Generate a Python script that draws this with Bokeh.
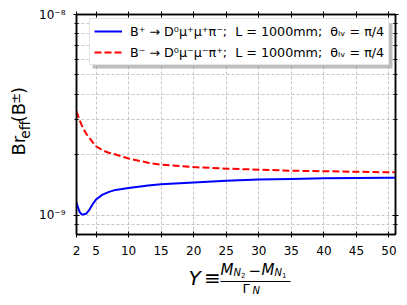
from bokeh.plotting import figure
from bokeh.layouts import row, column
from bokeh.models import (Legend, LegendItem, BoxAnnotation, FixedTicker,
                          CustomJSTickFormatter, LinearAxis, LogAxis, Range1d)
from bokeh.core.properties import value
from bokeh.embed import file_html
from bokeh.resources import INLINE

# ---- data ----
Y_vals = [2, 2.25, 2.5, 2.75, 3, 3.5, 4, 4.5, 5, 6, 7, 8, 10, 13, 15, 20, 25, 30, 35, 40, 45, 50, 51]
br_plus = [1.16e-9, 1.09e-9, 1.04e-9, 1.015e-9, 1.01e-9, 1.02e-9, 1.07e-9, 1.14e-9, 1.2e-9, 1.27e-9,
           1.31e-9, 1.34e-9, 1.37e-9, 1.41e-9, 1.43e-9, 1.46e-9, 1.49e-9, 1.51e-9, 1.52e-9,
           1.53e-9, 1.535e-9, 1.54e-9, 1.54e-9]
br_minus = [3.3e-9, 3.12e-9, 2.97e-9, 2.84e-9, 2.72e-9, 2.55e-9, 2.43e-9, 2.31e-9, 2.21e-9, 2.11e-9,
            2.05e-9, 2.01e-9, 1.92e-9, 1.83e-9, 1.79e-9, 1.74e-9, 1.71e-9, 1.69e-9, 1.67e-9,
            1.66e-9, 1.65e-9, 1.64e-9, 1.64e-9]
x_ticks = [2, 5, 10, 15, 20, 25, 30, 35, 40, 45, 50]
y_major = [1e-9, 1e-8]
y_minor = [9e-10, 2e-9, 3e-9, 4e-9, 5e-9, 6e-9, 7e-9, 8e-9, 9e-9]
label_plus = "B\u207a \u2192 D\u2070\u03bc\u207a\u03bc\u207a\u03c0\u207b;  L = 1000mm;  \u03b8\u2097\u1d65 = \u03c0/4"
label_minus = "B\u207b \u2192 D\u2070\u03bc\u207b\u03bc\u207b\u03c0\u207a;  L = 1000mm;  \u03b8\u2097\u1d65 = \u03c0/4"

FONT = "DejaVu Sans"

# ---------------- main plot ----------------
p = figure(width=371, height=259, x_range=Range1d(2, 51), y_range=Range1d(8.04e-10, 1e-8),
           y_axis_type="log", output_backend="svg", toolbar_location=None,
           min_border_left=39, min_border_right=12, min_border_top=14, min_border_bottom=25)
p.background_fill_color = "white"
p.border_fill_color = "white"
p.outline_line_color = "black"
p.outline_line_width = 1.5

sup_js = """
const m = {'-':'\u207b','0':'\u2070','1':'\u00b9','2':'\u00b2','3':'\u00b3','4':'\u2074',
           '5':'\u2075','6':'\u2076','7':'\u2077','8':'\u2078','9':'\u2079'};
const e = Math.round(Math.log10(tick));
return '10' + String(e).split('').map(c => m[c]).join('');
"""
blank = CustomJSTickFormatter(code="return '';")

def style_axis(ax, minor=False):
    ax.axis_line_color = "black"
    ax.axis_line_width = 1.5
    ax.major_tick_line_color = "black"
    ax.major_tick_in = 3
    ax.major_tick_out = 3
    if minor:
        ax.minor_tick_line_color = "black"
        ax.minor_tick_in = 2
        ax.minor_tick_out = 2
    else:
        ax.minor_tick_line_color = None
    ax.major_label_text_font = FONT
    ax.major_label_text_font_size = "12px"
    ax.major_label_text_color = "black"

xt = FixedTicker(ticks=x_ticks)
yt = FixedTicker(ticks=y_major, minor_ticks=y_minor)

p.xaxis.ticker = xt
p.yaxis.ticker = yt
p.yaxis.formatter = CustomJSTickFormatter(code=sup_js)
for ax in p.xaxis:
    style_axis(ax)
    ax.major_label_standoff = 8
for ax in p.yaxis:
    style_axis(ax, minor=True)
    ax.major_label_standoff = 8

top = LinearAxis(ticker=xt, formatter=blank)
style_axis(top)
top.major_label_standoff = 0
top.major_label_text_font_size = "0px"
p.add_layout(top, "above")
right = LogAxis(ticker=yt, formatter=blank)
style_axis(right, minor=True)
right.major_label_standoff = 0
right.major_label_text_font_size = "0px"
p.add_layout(right, "right")

p.xgrid.ticker = xt
p.ygrid.ticker = yt
for g in list(p.xgrid) + list(p.ygrid):
    g.grid_line_color = "#b8b8b8"
    g.grid_line_dash = "3 2"
    g.grid_line_width = 0.8
p.ygrid.minor_grid_line_color = "#b8b8b8"
p.ygrid.minor_grid_line_dash = "3 2"
p.ygrid.minor_grid_line_width = 0.8

r1 = p.line(Y_vals, br_plus, line_color="blue", line_width=2)
r2 = p.line(Y_vals, br_minus, line_color="red", line_width=2, line_dash="7 3")

shadow = BoxAnnotation(left=16, right=316, top=211, bottom=166,
                       left_units="screen", right_units="screen", top_units="screen", bottom_units="screen",
                       fill_color="gray", fill_alpha=0.5, line_color=None)
p.add_layout(shadow)

legend = Legend(items=[LegendItem(label=label_plus, renderers=[r1]),
                       LegendItem(label=label_minus, renderers=[r2])],
                location=(13, 169), glyph_width=28, glyph_height=16, label_height=16,
                padding=4, spacing=5, margin=0, label_standoff=8,
                label_text_font=FONT, label_text_font_size="12.7px", label_text_color="black",
                border_line_color="#cccccc", border_line_width=1,
                background_fill_color="white", background_fill_alpha=1.0)
p.add_layout(legend)

# ---------------- label panels (canvas-pixel coordinates) ----------------
def label_fig(w, h, xr, yr):
    f = figure(width=w, height=h, x_range=Range1d(*xr), y_range=Range1d(*yr),
               output_backend="svg", toolbar_location=None, min_border=0,
               x_axis_location=None, y_axis_location=None)
    f.grid.visible = False
    f.outline_line_color = None
    f.background_fill_color = "white"
    f.border_fill_color = "white"
    return f

def txt(f, x, y, s, size, style="normal", angle=0.0):
    f.text([x], [y], text=[s], text_font=value(FONT), text_font_size=value(f"{size}px"),
           text_font_style=style, angle=angle, text_align="left", text_baseline="middle",
           text_color="black")

yl = label_fig(36, 259, (0, 36), (259, 0))
R = 1.5707963
txt(yl, 18, 166, "Br", 18, angle=R)
txt(yl, 24, 146.3, "eff", 14, angle=R)
txt(yl, 18, 126.8, "(B", 18, angle=R)
txt(yl, 14.5, 105, "\u00b1", 13, angle=R)
txt(yl, 18, 93.5, ")", 18, angle=R)

xl = label_fig(407, 46, (0, 407), (305, 259))
txt(xl, 188, 277, "Y", 20, style="italic")
txt(xl, 203.5, 277, "\u2261", 20)
txt(xl, 220, 269, "M", 15, style="italic")
txt(xl, 233, 272, "N", 10, style="italic")
txt(xl, 240.5, 274, "2", 7)
txt(xl, 248, 269, "\u2212", 15)
txt(xl, 261, 269, "M", 15, style="italic")
txt(xl, 274, 272, "N", 10, style="italic")
txt(xl, 281.5, 274, "1", 7)
xl.segment(x0=[220], y0=[281], x1=[290], y1=[281], line_color="black", line_width=1)
txt(xl, 242, 288, "\u0393", 13)
txt(xl, 252, 290, "N", 10, style="italic")

layout = column(row(yl, p), xl)
open("out.html", "w").write(file_html(layout, INLINE))
